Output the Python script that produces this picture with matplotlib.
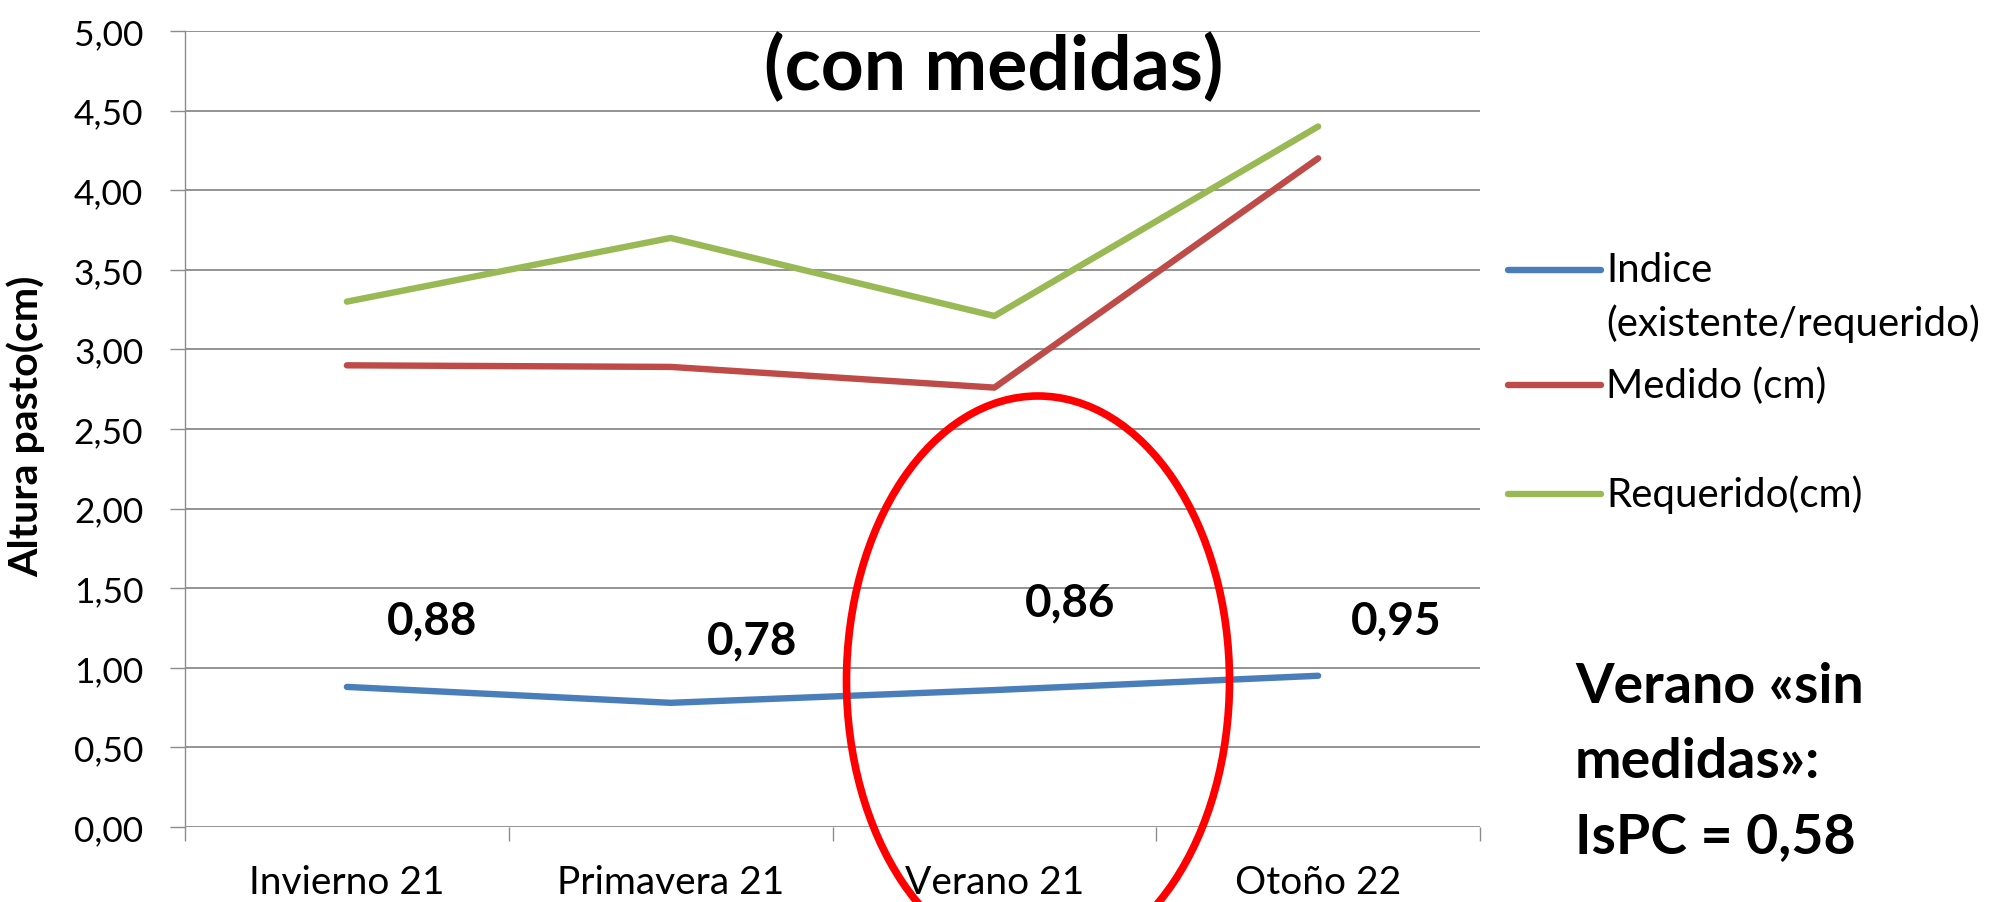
import matplotlib
matplotlib.use("Agg")
from matplotlib import pyplot as plt
from matplotlib import patches as mpatches
from matplotlib.lines import Line2D

plt.rcParams["font.family"] = ["Lato", "DejaVu Sans"]

# data
seasons = ["Invierno 21", "Primavera 21", "Verano 21", "Otoño 22"]
indice = [0.88, 0.78, 0.86, 0.95]
medido = [2.90, 2.89, 2.76, 4.20]
requerido = [3.30, 3.70, 3.21, 4.40]
series_names = ["Indice\n(existente/requerido)", "Medido (cm)", "Requerido(cm)"]
series_colors = ["#4A7EBB", "#BE4B48", "#98B954"]
y_ticks = [0, 0.5, 1, 1.5, 2, 2.5, 3, 3.5, 4, 4.5, 5]

# label offsets in pixels from each point (manual placement in the original)
label_offsets = [(85, 67), (81, 62), (76, 88), (78, 55)]

W, H = 1992, 903
fig = plt.figure(figsize=(W / 100, H / 100), dpi=100)
ax = fig.add_axes([185 / W, 1 - 828 / H, (1480 - 185) / W, (828 - 32) / H])

x = list(range(len(seasons)))
for vals, color in zip([indice, medido, requerido], series_colors):
    ax.plot(x, vals, color=color, lw=4.6, solid_capstyle="round", zorder=3)

for xi, v, (dx, dy) in zip(x, indice, label_offsets):
    ax.annotate(f"{v:.2f}".replace(".", ","), (xi, v),
                xytext=(dx * 0.72, dy * 0.72), textcoords="offset points",
                ha="center", va="center", fontsize=33, fontweight="bold")

ax.set_xlim(-0.5, len(seasons) - 0.5)
ax.set_ylim(0, 5)
ax.set_yticks(y_ticks)
ax.set_yticklabels([f"{v:.2f}".replace(".", ",") for v in y_ticks])
ax.set_xticks(x)
ax.set_xticklabels(seasons)
ax.set_xticks([i - 0.5 for i in range(len(seasons) + 1)], minor=True)
ax.tick_params(axis="x", which="major", length=0, pad=27, labelsize=28)
ax.tick_params(axis="x", which="minor", length=10, width=1, color="#8c8c8c")
ax.tick_params(axis="y", length=11, width=1, color="#8c8c8c", pad=19,
               labelsize=25.5)

ax.yaxis.grid(True, color="#8a8a8a", lw=1.3)
ax.set_axisbelow(True)
for side in ["top", "right", "bottom"]:
    ax.spines[side].set_visible(False)
ax.spines["left"].set_color("#8c8c8c")
ax.spines["left"].set_linewidth(1)

fig.text(26 / W, 1 - 426 / H, "Altura pasto(cm)", rotation=90,
         ha="center", va="center", fontsize=29.5, fontweight="bold")

fig.text(994 / W, 1 - 68 / H, "(con medidas)", ha="center", va="center",
         fontsize=54, fontweight="bold")

# legend drawn by hand, handles level with the first line of each label
legend_y = [271, 386, 495]
line_gap = 53
for name, color, ly in zip(series_names, series_colors, legend_y):
    fig.add_artist(Line2D([1508 / W, 1601 / W], [1 - ly / H, 1 - ly / H],
                          color=color, lw=4.6, solid_capstyle="round"))
    for k, part in enumerate(name.split("\n")):
        fig.text(1606 / W, 1 - (ly + k * line_gap) / H, part, ha="left",
                 va="center", fontsize=29)

fig.text(1575 / W, 1 - 762 / H, "Verano «sin\nmedidas»:\nIsPC = 0,58",
         ha="left", va="center", fontsize=40, fontweight="bold",
         linespacing=1.6)

fig.add_artist(mpatches.Ellipse((10.38, 2.21), 3.83, 5.70, fill=False,
                                edgecolor="#FF0000", lw=5.5,
                                transform=fig.dpi_scale_trans, clip_on=False))

fig.savefig("out.png", dpi=100)
